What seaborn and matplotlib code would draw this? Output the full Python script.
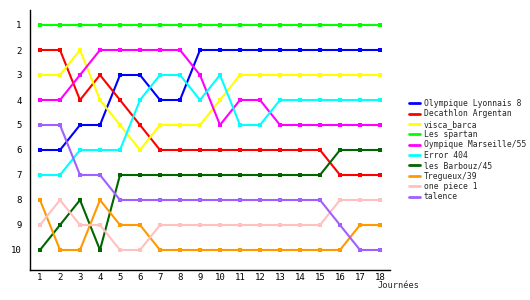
import matplotlib
matplotlib.use("Agg")
import matplotlib.pyplot as plt
import seaborn as sns
import pandas as pd

days = list(range(1, 19))
teams = ["Olympique Lyonnais 8", "Decathlon Argentan", "visca_barca", "Les spartan",
         "Oympique Marseille/55", "Error 404", "les Barbouz/45", "Tregueux/39",
         "one piece 1", "talence"]
colors = ["#0000FF", "#FF0000", "#FFFF00", "#00FF00", "#FF00FF", "#00FFFF",
          "#006600", "#FF9900", "#FFC0C0", "#A060FF"]

lyon = [6, 6, 5, 5, 3, 3, 4, 4, 2, 2, 2, 2, 2, 2, 2, 2, 2, 2]
decathlon = [2, 2, 4, 3, 4, 5, 6, 6, 6, 6, 6, 6, 6, 6, 6, 7, 7, 7]
visca = [3, 3, 2, 4, 5, 6, 5, 5, 5, 4, 3, 3, 3, 3, 3, 3, 3, 3]
spartan = [1] * 18
marseille = [4, 4, 3, 2, 2, 2, 2, 2, 3, 5, 4, 4, 5, 5, 5, 5, 5, 5]
error404 = [7, 7, 6, 6, 6, 4, 3, 3, 4, 3, 5, 5, 4, 4, 4, 4, 4, 4]
barbouz = [10, 9, 8, 10, 7, 7, 7, 7, 7, 7, 7, 7, 7, 7, 7, 6, 6, 6]
tregueux = [8, 10, 10, 8, 9, 9, 10, 10, 10, 10, 10, 10, 10, 10, 10, 10, 9, 9]
onepiece = [9, 8, 9, 9, 10, 10, 9, 9, 9, 9, 9, 9, 9, 9, 9, 8, 8, 8]
talence = [5, 5, 7, 7, 8, 8, 8, 8, 8, 8, 8, 8, 8, 8, 8, 9, 10, 10]

series = [lyon, decathlon, visca, spartan, marseille, error404, barbouz,
          tregueux, onepiece, talence]

rows = []
for t, vals in zip(teams, series):
    for d, v in zip(days, vals):
        rows.append({"Journée": d, "Rang": v, "Equipe": t})
df = pd.DataFrame(rows)

sns.set_style("white")
plt.rcParams["font.family"] = ["DejaVu Sans Mono", "DejaVu Sans"]

fig = plt.figure(figsize=(5.3, 3.0), dpi=100)
ax = fig.add_axes([30 / 530, 30 / 300, 360 / 530, 260 / 300])

sns.lineplot(data=df, x="Journée", y="Rang", hue="Equipe", hue_order=teams,
             palette=colors, marker="s", markersize=3, markeredgewidth=0,
             linewidth=1.5, ax=ax, legend=True)

ax.set_xlim(0.5, 18.5)
ax.set_ylim(10.8, 0.4)
ax.set_xticks(days)
ax.set_xticklabels([str(d) for d in days])
ax.set_yticks(range(1, 11))
ax.set_yticklabels([str(r) for r in range(1, 11)])
ax.tick_params(axis="both", length=0, labelsize=6.5, colors="black")
ax.tick_params(axis="x", pad=2)
ax.tick_params(axis="y", pad=6)
for s in ["top", "right"]:
    ax.spines[s].set_visible(False)
for s in ["left", "bottom"]:
    ax.spines[s].set_color("black")
    ax.spines[s].set_linewidth(1.0)
ax.set_xlabel("")
ax.set_ylabel("")
ax.grid(False)

fig.text(378 / 530, 1 - 285 / 300, "Journées", fontsize=6.2, va="center", ha="left")

leg = ax.legend(loc="upper left", bbox_to_anchor=(409 / 530, 1 - 99 / 300),
                bbox_transform=fig.transFigure, frameon=False, fontsize=5.8,
                handlelength=1.4, handletextpad=0.45, labelspacing=0.17,
                borderaxespad=0, borderpad=0)
for line in leg.get_lines():
    line.set_marker("")
    line.set_linewidth(2)

fig.savefig("out.png", dpi=100)
